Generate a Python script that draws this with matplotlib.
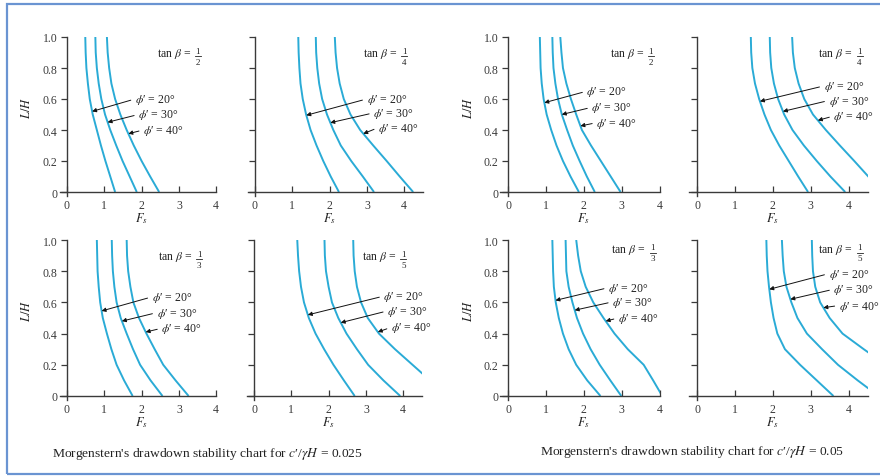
import numpy as np
import matplotlib
matplotlib.use("Agg")
import matplotlib.pyplot as plt
from matplotlib.patches import Rectangle
from matplotlib.lines import Line2D

plt.rcParams['font.family'] = ['Liberation Serif', 'DejaVu Serif']
plt.rcParams['mathtext.fontset'] = 'stix'

lh = [1.0, 0.9, 0.8, 0.7, 0.6, 0.5, 0.4, 0.3, 0.2, 0.1, 0.0]

# c'/gamma H = 0.025
fs025_b2_20 = [0.49, 0.50, 0.52, 0.56, 0.61, 0.69, 0.80, 0.91, 1.03, 1.16, 1.29]
fs025_b2_30 = [0.76, 0.77, 0.80, 0.85, 0.92, 1.02, 1.16, 1.32, 1.49, 1.68, 1.87]
fs025_b2_40 = [1.07, 1.09, 1.13, 1.19, 1.29, 1.43, 1.60, 1.79, 2.00, 2.23, 2.47]

fs025_b4_20 = [1.16, 1.17, 1.19, 1.22, 1.28, 1.37, 1.49, 1.65, 1.83, 2.03, 2.25]
fs025_b4_30 = [1.63, 1.64, 1.67, 1.72, 1.80, 1.93, 2.10, 2.30, 2.58, 2.89, 3.19]
fs025_b4_40 = [2.14, 2.16, 2.20, 2.27, 2.38, 2.56, 2.82, 3.17, 3.53, 3.88, 4.24]

fs025_b3_20 = [0.80, 0.81, 0.82, 0.85, 0.89, 0.96, 1.07, 1.19, 1.33, 1.53, 1.76]
fs025_b3_30 = [1.20, 1.21, 1.23, 1.27, 1.33, 1.44, 1.60, 1.77, 1.96, 2.24, 2.56]
fs025_b3_40 = [1.60, 1.61, 1.64, 1.70, 1.78, 1.93, 2.13, 2.35, 2.58, 2.91, 3.26]

fs025_b5_20 = [1.16, 1.18, 1.21, 1.26, 1.34, 1.47, 1.65, 1.88, 2.13, 2.41, 2.70]
fs025_b5_30 = [1.89, 1.90, 1.93, 2.00, 2.09, 2.26, 2.48, 2.76, 3.06, 3.47, 3.92]
fs025_b5_40 = [2.66, 2.67, 2.70, 2.76, 2.87, 3.05, 3.35, 3.78, 4.25, 4.72, 5.19]

# c'/gamma H = 0.05
fs05_b2_20 = [0.84, 0.85, 0.86, 0.89, 0.94, 1.02, 1.14, 1.28, 1.45, 1.65, 1.87]
fs05_b2_30 = [1.17, 1.18, 1.20, 1.25, 1.32, 1.42, 1.56, 1.71, 1.89, 2.08, 2.29]
fs05_b2_40 = [1.38, 1.41, 1.45, 1.54, 1.66, 1.80, 1.95, 2.19, 2.45, 2.71, 2.97]

fs05_b4_20 = [1.42, 1.43, 1.46, 1.53, 1.64, 1.78, 1.95, 2.17, 2.42, 2.67, 2.93]
fs05_b4_30 = [1.92, 1.93, 1.96, 2.03, 2.14, 2.30, 2.52, 2.82, 3.16, 3.52, 3.91]
fs05_b4_40 = [2.51, 2.53, 2.58, 2.68, 2.83, 3.06, 3.40, 3.77, 4.15, 4.52, 4.89]

fs05_b3_20 = [1.17, 1.18, 1.19, 1.21, 1.26, 1.34, 1.45, 1.60, 1.80, 2.09, 2.44]
fs05_b3_30 = [1.52, 1.53, 1.54, 1.60, 1.70, 1.82, 1.98, 2.18, 2.42, 2.70, 2.99]
fs05_b3_40 = [1.80, 1.85, 1.92, 2.05, 2.25, 2.52, 2.81, 3.16, 3.58, 3.83, 4.07]

fs05_b5_20 = [1.83, 1.84, 1.86, 1.90, 1.95, 2.02, 2.12, 2.32, 2.72, 3.16, 3.60]
fs05_b5_30 = [2.24, 2.26, 2.29, 2.36, 2.49, 2.65, 2.90, 3.30, 3.72, 4.24, 4.79]
fs05_b5_40 = [3.03, 3.04, 3.06, 3.12, 3.25, 3.50, 3.84, 4.40, 4.98, 5.56, 6.14]

phi_labels = ['20', '30', '40']

W, H = 880, 477
fig = plt.figure(figsize=(W / 100, H / 100), dpi=100)
renderer = fig.canvas.get_renderer()

curve_color = '#2aabd6'
axis_color = '#3a3a3a'
text_color = '#222222'


def make_axes(ox, oy, sx, sy, xlim, ylim):
    # ox, oy: pixel position of the data origin; sx, sy: pixels per unit
    left = ox + xlim[0] * sx
    right = ox + xlim[1] * sx
    top = oy - ylim[1] * sy
    bottom = oy - ylim[0] * sy
    return fig.add_axes([left / W, 1 - bottom / H, (right - left) / W, (bottom - top) / H])


def tan_label(ax, pos, den):
    t = ax.text(pos[0], pos[1], r'tan $\beta$ =', fontsize=8.5, ha='left',
                va='baseline', color=text_color)
    bb = t.get_window_extent(renderer)
    cx = bb.x1 + 7
    cy = bb.y0 + 3.5
    fig.text(cx / W, (cy + 1.5) / H, '1', fontsize=6.5, ha='center', va='bottom',
             color=text_color)
    fig.text(cx / W, (cy - 1.5) / H, den, fontsize=6.5, ha='center', va='top',
             color=text_color)
    fig.add_artist(Line2D([(cx - 3) / W, (cx + 3) / W], [cy / H, cy / H],
                          lw=0.6, color=text_color))


panels = [
    # origin px, x scale, y scale, xmax, curves, tan denominator, tan label pos, y labels, text pos, tip y
    ((67, 193), 37.3, 155, 4.0, (fs025_b2_20, fs025_b2_30, fs025_b2_40), '2', (2.40, 0.88), True,
     [(1.82, 0.60), (1.91, 0.50), (2.04, 0.40)], [0.52, 0.45, 0.376]),
    ((255, 193), 37.3, 155, 4.5, (fs025_b4_20, fs025_b4_30, fs025_b4_40), '4', (2.90, 0.88), False,
     [(2.99, 0.60), (3.17, 0.51), (3.30, 0.415)], [0.495, 0.447, 0.376]),
    ((67, 397), 37.3, 156, 4.0, (fs025_b3_20, fs025_b3_30, fs025_b3_40), '3', (2.44, 0.88), True,
     [(2.27, 0.635), (2.40, 0.534), (2.53, 0.434)], [0.545, 0.48, 0.41]),
    ((254, 397), 37.3, 156, 4.5, (fs025_b5_20, fs025_b5_30, fs025_b5_40), '5', (2.90, 0.88), False,
     [(3.47, 0.64), (3.57, 0.545), (3.67, 0.44)], [0.52, 0.47, 0.41]),
    ((508, 193), 37.9, 155, 4.0, (fs05_b2_20, fs05_b2_30, fs05_b2_40), '2', (2.68, 0.88), True,
     [(2.07, 0.65), (2.20, 0.546), (2.33, 0.447)], [0.576, 0.50, 0.426]),
    ((697, 193), 37.9, 155, 4.5, (fs05_b4_20, fs05_b4_30, fs05_b4_40), '4', (3.20, 0.88), False,
     [(3.34, 0.684), (3.47, 0.59), (3.60, 0.49)], [0.585, 0.52, 0.462]),
    ((508, 397), 37.9, 156, 4.0, (fs05_b3_20, fs05_b3_30, fs05_b3_40), '3', (2.73, 0.92), True,
     [(2.64, 0.694), (2.75, 0.603), (2.90, 0.50)], [0.613, 0.55, 0.48]),
    ((697, 397), 37.9, 156, 4.5, (fs05_b5_20, fs05_b5_30, fs05_b5_40), '5', (3.20, 0.92), False,
     [(3.47, 0.784), (3.60, 0.684), (3.74, 0.58)], [0.684, 0.62, 0.566]),
]

for (ox, oy), sx, sy, xmax, curves, den, tanpos, show_y, textpos, tips in panels:
    xlim = (-0.2, xmax)
    ylim = (-0.025, 1.0)
    ax = make_axes(ox, oy, sx, sy, xlim, ylim)
    ax.set_xlim(xlim)
    ax.set_ylim(ylim)
    ax.set_facecolor('none')
    for s in ['top', 'right']:
        ax.spines[s].set_visible(False)
    ax.spines['left'].set_position(('data', 0))
    ax.spines['bottom'].set_position(('data', 0))
    for s in ['left', 'bottom']:
        ax.spines[s].set_color(axis_color)
        ax.spines[s].set_linewidth(1.0)

    ax.set_xticks([0, 1, 2, 3, 4])
    ax.set_yticks([0, 0.2, 0.4, 0.6, 0.8, 1.0])
    ax.tick_params(axis='x', direction='in', length=4, width=0.9, colors=axis_color,
                   labelsize=8.5, pad=5)
    ax.tick_params(axis='y', direction='out', length=4, width=0.9, colors=axis_color,
                   labelsize=8.5, pad=3)
    if show_y:
        ax.set_yticklabels(['0', '0.2', '0.4', '0.6', '0.8', '1.0'])
        fig.text((ox - 40) / W, 1 - (oy - 0.55 * sy) / H, '$L/H$', rotation=90,
                 ha='center', va='center', fontsize=9, color=text_color)
    else:
        ax.set_yticklabels([])
    fig.text((ox + 2 * sx) / W, 1 - (oy + 26) / H, '$F_s$', ha='center', va='center',
             fontsize=9, color=text_color)

    for fs in curves:
        ax.plot(fs, lh, color=curve_color, lw=1.4, solid_capstyle='butt')

    tan_label(ax, tanpos, den)

    for fs, lab, (tx, ty), tipy in zip(curves, phi_labels, textpos, tips):
        tipx = np.interp(tipy, lh[::-1], fs[::-1])
        ax.annotate(r"$\phi$′ = %s°" % lab, xy=(tipx, tipy), xytext=(tx, ty),
                    fontsize=8.5, ha='left', va='center', color=text_color,
                    annotation_clip=False,
                    arrowprops=dict(arrowstyle='-|>', color='#111111', lw=0.7,
                                    mutation_scale=6, relpos=(0, 0.5),
                                    shrinkA=1, shrinkB=0))

fig.text(52 / W, 1 - 454 / H,
         r"Morgenstern's drawdown stability chart for $c$′/$\gamma H$ = 0.025",
         ha='left', va='center', fontsize=9.7, color=text_color)
fig.text(540 / W, 1 - 452 / H,
         r"Morgenstern's drawdown stability chart for $c$′/$\gamma H$ = 0.05",
         ha='left', va='center', fontsize=9.7, color=text_color)

# blue frame around the figure
fig.patches.append(Rectangle((7 / W, 1 - 475 / H), 1.0, (475 - 5) / H,
                             transform=fig.transFigure, fill=False,
                             edgecolor='#6a94d2', lw=1.6))

fig.savefig('out.png', dpi=100)
